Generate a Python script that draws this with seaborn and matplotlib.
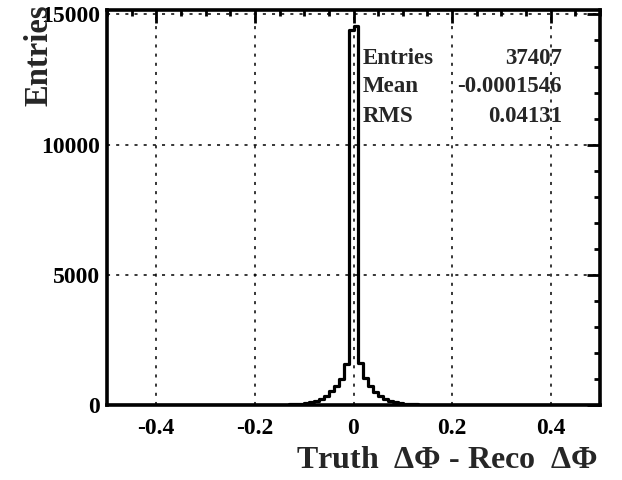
import numpy as np
import pandas as pd
import matplotlib
matplotlib.use("Agg")
import matplotlib.pyplot as plt
from matplotlib.ticker import MultipleLocator
import seaborn as sns

# Histogram of Truth dPhi - Reco dPhi, 100 bins of width 0.01 on [-0.5, 0.5]
bin_width = 0.01
bin_range = (-0.5, 0.5)
bin_lows = [-0.15, -0.14, -0.13, -0.12, -0.11, -0.10, -0.09, -0.08, -0.07, -0.06,
            -0.05, -0.04, -0.03, -0.02, -0.01, 0.00, 0.01, 0.02, 0.03, 0.04,
            0.05, 0.06, 0.07, 0.08, 0.09, 0.10, 0.11, 0.12, 0.13, 0.14]
counts = [10, 15, 20, 30, 45, 65, 100, 160, 230, 350,
          520, 740, 1010, 1590, 14420, 14540, 1620, 1030, 720, 510,
          340, 230, 150, 100, 65, 45, 30, 20, 15, 10]

stat_names = ["Entries", "Mean", "RMS"]
stat_values = ["37407", "-0.0001546", "0.04131"]

x_ticks = [-0.4, -0.2, 0, 0.2, 0.4]
x_ticklabels = ["-0.4", "-0.2", "0", "0.2", "0.4"]
y_ticks = [0, 5000, 10000, 15000]
y_ticklabels = ["0", "5000", "10000", "15000"]

sns.set_style("white")
plt.rcParams["font.family"] = ["Liberation Serif", "DejaVu Serif"]
plt.rcParams["font.weight"] = "bold"
plt.rcParams["mathtext.fontset"] = "custom"
plt.rcParams["mathtext.rm"] = "Liberation Serif:bold"
plt.rcParams["mathtext.it"] = "Liberation Serif:bold"

W, H = 622, 480
fig = plt.figure(figsize=(W / 100, H / 100), dpi=100)
left, right, top, bottom = 107, 600, 10, 405
ax = fig.add_axes([left / W, 1 - bottom / H, (right - left) / W, (bottom - top) / H])

df = pd.DataFrame({"dphi": np.array(bin_lows) + bin_width / 2, "n": counts})
sns.histplot(data=df, x="dphi", weights="n", binwidth=bin_width, binrange=bin_range,
             element="step", fill=False, color="black", linewidth=2.3, ax=ax, zorder=3)

ax.set_xlim(-0.5, 0.5)
ax.set_ylim(0, 15170)

ax.set_xticks(x_ticks)
ax.set_xticklabels(x_ticklabels)
ax.set_yticks(y_ticks)
ax.set_yticklabels(y_ticklabels)
ax.xaxis.set_minor_locator(MultipleLocator(0.05))
ax.yaxis.set_minor_locator(MultipleLocator(1000))

ax.tick_params(axis="both", which="both", direction="in", top=True, right=True,
               colors="black", labelsize=17)
ax.tick_params(axis="both", which="major", length=9.5, width=2)
ax.tick_params(axis="both", which="minor", length=4.5, width=2)
ax.tick_params(axis="x", which="major", pad=9)
ax.tick_params(axis="y", which="major", pad=5)
for lab in ax.get_xticklabels() + ax.get_yticklabels():
    lab.set_fontweight("bold")

ax.grid(True, which="major", color="black", linestyle=(0, (2, 4)), linewidth=1.1)
ax.set_axisbelow(True)

for sp in ax.spines.values():
    sp.set_linewidth(2.6)
    sp.set_color("black")

ax.set_xlabel("")
ax.set_ylabel("")
fig.text(598 / W, 1 - 460 / H, r"Truth  $\Delta\Phi$ - Reco  $\Delta\Phi$",
         ha="right", va="center", fontsize=23, fontweight="bold")
fig.text(39 / W, 1 - 5 / H, "Entries", rotation=90, ha="center", va="top",
         fontsize=23.5, fontweight="bold")

# Statistics box
rows_y = [58, 87, 117]
for name, val, yy in zip(stat_names, stat_values, rows_y):
    fig.text(363 / W, 1 - yy / H, name, ha="left", va="center",
             fontsize=16.5, fontweight="bold")
    fig.text(562 / W, 1 - yy / H, val, ha="right", va="center",
             fontsize=16.5, fontweight="bold")

fig.savefig("out.png", dpi=100, facecolor="white")
